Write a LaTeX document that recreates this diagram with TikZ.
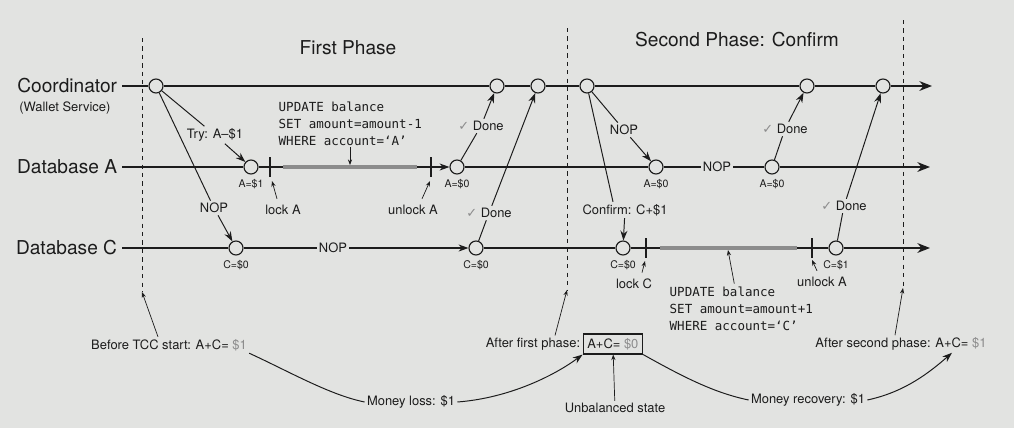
\documentclass[tikz,border=0pt]{standalone}
\usepackage{fontspec}
\setmainfont{TeX Gyre Heros}
\setmonofont{DejaVu Sans Mono}
\newfontfamily\symbolfont{DejaVu Sans}
\usepackage{tikz}
\usetikzlibrary{arrows.meta, positioning, calc}
\definecolor{papel}{RGB}{226,227,225}
\definecolor{gris}{RGB}{140,140,140}
\definecolor{tinta}{RGB}{28,28,28}
\newcommand{\okmark}{{\symbolfont\textcolor{gris}{✓}}}
\newcommand{\money}[1]{\textcolor{gris}{\$#1}}
\tikzstyle{event} = [circle, draw=tinta, fill=papel, minimum size=0.35cm, inner sep=0pt, line width=0.8pt]
\tikzstyle{track} = [draw=tinta, line width=0.9pt]
\tikzstyle{timeline} = [track, -{Stealth[length=9pt, width=7pt]}]
\tikzstyle{msg} = [draw=tinta, line width=0.7pt]
\tikzstyle{arrow} = [msg, -{Stealth[length=7pt, width=5pt]}]
\tikzstyle{pointer} = [draw=tinta, line width=0.5pt, -{Stealth[length=4pt, width=3pt]}]
\tikzstyle{divider} = [draw=tinta, dashed, line width=0.6pt]
\tikzstyle{lockbar} = [draw=gris, line width=2.2pt]
\tikzstyle{title} = [text=tinta, font=\fontsize{13.6}{16}\selectfont]
\tikzstyle{note} = [text=tinta, font=\fontsize{9.2}{11}\selectfont, inner sep=1.5pt]
\tikzstyle{amount} = [text=tinta, font=\fontsize{7.5}{9}\selectfont, inner sep=1pt]
\tikzstyle{sql} = [text=tinta, font=\ttfamily\fontsize{8.9}{12}\selectfont, align=left, inner sep=1pt]

\begin{document}
\begin{tikzpicture}[x=0.025cm, y=-0.025cm]

  % Fondo
  \fill[papel] (0,0) rectangle (1014,428);
  \useasboundingbox (0,0) rectangle (1014,428);

  % Cortes entre fases
  \coordinate (d1top) at (142,38);
  \coordinate (d1bot) at (142,292);
  \coordinate (d2top) at (567,28);
  \coordinate (d2bot) at (567,290);
  \coordinate (d3top) at (903,20);
  \coordinate (d3bot) at (903,288);
  \draw [divider] (d1top) -- (d1bot);
  \draw [divider] (d2top) -- (d2bot);
  \draw [divider] (d3top) -- (d3bot);

  % Titulos de fase
  \node (first) [title] at (348,48) {First Phase};
  \node (second) [title] at (737,40) {Second Phase: Confirm};

  % Participantes
  \node (coord) [title, anchor=east] at (122,86) {Coordinator};
  \node (wallet) [note, anchor=west] at (17,108) {(Wallet Service)};
  \node (dba) [title, anchor=east] at (122,167) {Database A};
  \node (dbc) [title, anchor=east] at (122,248) {Database C};

  % Eventos
  \node (c0) [event] at (156,86) {};
  \node (c1) [event] at (497,86) {};
  \node (c2) [event] at (538,86) {};
  \node (c3) [event] at (587,86) {};
  \node (c4) [event] at (807,86) {};
  \node (c5) [event] at (883,86) {};
  \node (a1) [event] at (251,167) {};
  \node (a2) [event] at (457,167) {};
  \node (a3) [event] at (656,167) {};
  \node (a4) [event] at (772,167) {};
  \node (k1) [event] at (236,248) {};
  \node (k2) [event] at (476,248) {};
  \node (k3) [event] at (623,248) {};
  \node (k4) [event] at (836,248) {};

  % Valores de las cuentas
  \node (va1) [amount, below=2pt of a1] {A=\$1};
  \node (va2) [amount, below=2pt of a2] {A=\$0};
  \node (va3) [amount, below=2pt of a3] {A=\$0};
  \node (va4) [amount, below=2pt of a4] {A=\$0};
  \node (vk1) [amount, below=2pt of k1] {C=\$0};
  \node (vk2) [amount, below=2pt of k2] {C=\$0};
  \node (vk3) [amount, below=2pt of k3] {C=\$0};
  \node (vk4) [amount, below=2pt of k4] {C=\$1};

  % Lineas de tiempo
  \coordinate (coordend) at (932,86);
  \coordinate (aend) at (930,167);
  \coordinate (kend) at (930,248);
  \node (nopa) [note] at (717,167) {NOP};
  \node (nopk) [note] at (333,248) {NOP};
  \draw [timeline] (coord) -- (c0) -- (c1) -- (c2) -- (c3) -- (c4) -- (c5) -- (coordend);
  \draw [track] (dba) -- (a1);
  \draw [arrow, line width=0.9pt] (a1) -- (a2);
  \draw [track] (a2) -- (a3);
  \draw [track] (a3) -- (nopa) -- (a4);
  \draw [timeline] (a4) -- (aend);
  \draw [track] (dbc) -- (k1);
  \draw [track] (k1) -- (nopk);
  \draw [arrow, line width=0.9pt] (nopk) -- (k2);
  \draw [track] (k2) -- (k3) -- (k4);
  \draw [timeline] (k4) -- (kend);

  % Bloqueos
  \draw [lockbar] (283,167) -- (417,167);
  \draw [lockbar] (660,248) -- (797,248);
  \draw [track] (270,157) -- (270,177);
  \draw [track] (431,157) -- (431,177);
  \draw [track] (646,238) -- (646,258);
  \draw [track] (812,238) -- (812,258);
  \coordinate (tiplocka) at (272,181);
  \coordinate (tipunlocka) at (430,181);
  \coordinate (tiplockc) at (645,261);
  \coordinate (tipunlockc) at (812,260);
  \node (locka) [note] at (283,210) {lock A};
  \node (unlocka) [note] at (413,210) {unlock A};
  \node (lockc) [note] at (634,284) {lock C};
  \node (unlockc) [note] at (822,282) {unlock A};
  \draw [pointer] ($(locka.north)+(-6,-4)$) -- (tiplocka);
  \draw [pointer] ($(unlocka.north)+(9,-4)$) -- (tipunlocka);
  \draw [pointer] ($(lockc.north)+(8,-4)$) -- (tiplockc);
  \draw [pointer] ($(unlockc.north)+(-5,-4)$) -- (tipunlockc);

  % Sentencias SQL
  \coordinate (bara) at (350,165);
  \coordinate (barc) at (728,250);
  \node (sqla) [sql, anchor=west] at (277,124) {UPDATE balance\\SET amount=amount-1\\WHERE account=‘A’};
  \node (sqlc) [sql, anchor=west] at (668,309) {UPDATE balance\\SET amount=amount+1\\WHERE account=‘C’};
  \draw [pointer] (sqla.south -| bara) -- (bara);
  \draw [pointer] ($(sqlc.north)+(-7,-2)$) -- (barc);

  % Primera fase: Try
  \node (try) [note] at (215,135) {Try: A--\$1};
  \node (nop1) [note] at (214,208) {NOP};
  \draw [msg] (c0) -- (try);
  \draw [arrow] (try) -- (a1);
  \draw [msg] (c0) -- (nop1);
  \draw [arrow] (nop1) -- (k1);
  \node (done1) [note] at (481,126) {\okmark\ Done};
  \node (done2) [note] at (489,213) {\okmark\ Done};
  \draw [msg] (a2) -- (done1);
  \draw [arrow] (done1) -- (c1);
  \draw [msg] (k2) -- (done2);
  \draw [arrow] (done2) -- (c2);

  % Segunda fase: Confirm
  \node (nop3) [note] at (624,130) {NOP};
  \node (confirm) [note] at (625,210) {Confirm: C+\$1};
  \draw [msg] (c3) -- (nop3);
  \draw [arrow] (nop3) -- (a3);
  \draw [msg] (c3) -- ($(confirm.north)+(-12,0)$);
  \draw [arrow] (confirm) -- (k3);
  \node (done3) [note] at (785,129) {\okmark\ Done};
  \node (done4) [note] at (844,206) {\okmark\ Done};
  \draw [msg] (a4) -- (done3);
  \draw [arrow] (done3) -- (c4);
  \draw [msg] (k4) -- (done4);
  \draw [arrow] (done4) -- (c5);

  % Estados del saldo
  \node (before) [note] at (169,345) {Before TCC start: A+C= \money{1}};
  \node (after1) [note] at (533,344) {After first phase:};
  \node (box) [note, draw=tinta, line width=0.8pt, inner sep=3pt, right=0pt of after1] {A+C= \money{0}};
  \node (after2) [note] at (901,344) {After second phase: A+C= \money{1}};
  \node (loss) [note] at (411,402) {Money loss: \$1};
  \node (unbal) [note] at (615,408) {Unbalanced state};
  \node (recovery) [note] at (808,400) {Money recovery: \$1};
  \draw [pointer] ($(before.north)+(-11,0)$) -- (d1bot);
  \draw [pointer] ($(after1.north)+(22,0)$) -- (d2bot);
  \draw [pointer] ($(after2.north)+(-6,0)$) -- (d3bot);
  \draw [pointer] (unbal) -- (box);

  % Curvas de perdida y recuperacion
  \draw [msg] (before.south east) .. controls (290,372) and (330,395) .. (loss.west);
  \draw [arrow] (loss.east) .. controls (510,398) and (555,375) .. (box.south west);
  \draw [msg] (box.south east) .. controls (685,378) and (715,393) .. (recovery.west);
  \draw [arrow] (recovery.east) .. controls (905,392) and (930,372) .. ($(after2.south)+(51,0)$);

\end{tikzpicture}
\end{document}
